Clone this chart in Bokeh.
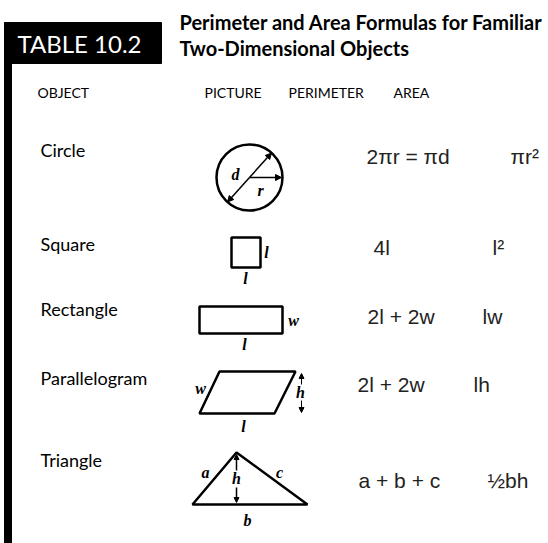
from bokeh.plotting import figure
from bokeh.models import Range1d, Arrow, NormalHead
from bokeh.core.properties import value
from bokeh.embed import file_html
from bokeh.resources import INLINE

# ---- content ----
table_label = "TABLE 10.2"
title_lines = ["Perimeter and Area Formulas for Familiar", "Two-Dimensional Objects"]
headers = ["OBJECT", "PICTURE", "PERIMETER", "AREA"]
objects = ["Circle", "Square", "Rectangle", "Parallelogram", "Triangle"]
perimeters = ["2\u03c0r = \u03c0d", "4l", "2l + 2w", "2l + 2w", "a + b + c"]
areas = ["\u03c0r\u00b2", "l\u00b2", "lw", "lh", "\u00bdbh"]

# ---- layout (page pixel coordinates) ----
header_x = [37, 204, 288, 393]
header_y = 92
label_x = 40
label_y = [149, 243, 308, 377, 459]
perim_x = [366, 373, 367, 357, 358]
row_y = [156, 247, 316, 384, 480]
area_x = [510, 492, 482, 473, 487]

HUM = value("Lato")
ARIAL = value("Liberation Sans")
SERIF = value("Liberation Serif")

p = figure(width=548, height=543, output_backend="svg", toolbar_location=None,
           x_range=Range1d(0, 548), y_range=Range1d(543, 0),
           x_axis_type=None, y_axis_type=None, min_border=0,
           background_fill_color="white", border_fill_color="white")
p.grid.visible = False
p.outline_line_color = None

# black bar + label box
p.quad(left=[4], right=[11], top=[22], bottom=[543], color="black")
p.quad(left=[4], right=[161], top=[22], bottom=[63], color="black")
p.text(x=[79], y=[43], text=[table_label], text_color="white", text_font=HUM,
       text_font_size="24px", text_align="center", text_baseline="middle")

# title
p.text(x=[179, 179], y=[21, 47], text=title_lines, text_font=HUM, text_font_style="bold",
       text_font_size="20px", text_baseline="middle", text_color="black")

# headers
p.text(x=header_x, y=[header_y] * 4, text=headers, text_font=HUM, text_font_size="14px",
       text_baseline="middle", text_color="black")

# row labels
p.text(x=[label_x] * 5, y=label_y, text=objects, text_font=HUM, text_font_size="18px",
       text_baseline="middle", text_color="black")

# formulas
p.text(x=perim_x, y=row_y, text=perimeters, text_font=ARIAL, text_font_size="21px",
       text_baseline="middle", text_color="#222222")
p.text(x=area_x, y=row_y, text=areas, text_font=ARIAL, text_font_size="21px",
       text_baseline="middle", text_color="#222222")

LW = 2.5

def arrow(x0, y0, x1, y1, size=6, lw=1.5):
    p.add_layout(Arrow(end=NormalHead(size=size, fill_color="black", line_color="black"),
                       x_start=x0, y_start=y0, x_end=x1, y_end=y1,
                       line_width=lw, line_color="black"))

def lab(x, y, t):
    p.text(x=[x], y=[y], text=[t], text_font=SERIF, text_font_style="bold italic",
           text_font_size="16px", text_align="center", text_baseline="middle", text_color="black")

# circle
cx, cy, r = 249, 177, 33
p.circle(x=[cx], y=[cy], radius=r, fill_color=None, line_color="black", line_width=LW)
arrow(cx, cy, 271, 152.5)
arrow(cx, cy, 227, 201.5)
arrow(cx, cy, 281, cy)
lab(235, 174, "d")
lab(260, 190, "r")

# square
p.quad(left=[231], right=[260], top=[237], bottom=[267], fill_color=None,
       line_color="black", line_width=LW)
lab(266, 252, "l")
lab(245, 278, "l")

# rectangle
p.quad(left=[199], right=[282], top=[306], bottom=[333], fill_color=None,
       line_color="black", line_width=LW)
lab(293, 320, "w")
lab(244, 344, "l")

# parallelogram
p.patch(x=[219, 295, 274, 199], y=[371, 371, 413, 413], fill_color=None,
        line_color="black", line_width=LW)
lab(200, 388, "w")
lab(300, 392, "h")
arrow(301, 384, 301, 373, size=5, lw=1)
arrow(301, 400, 301, 412, size=5, lw=1)
lab(243, 426, "l")

# triangle
p.patch(x=[236, 192, 307], y=[452, 504, 504], fill_color=None,
        line_color="black", line_width=LW)
arrow(236, 470, 236, 454, size=5, lw=1.5)
arrow(236, 487, 236, 502, size=5, lw=1.5)
lab(236, 478, "h")
lab(205, 472, "a")
lab(279, 472, "c")
lab(247, 520, "b")

open("out.html", "w").write(file_html(p, INLINE))
